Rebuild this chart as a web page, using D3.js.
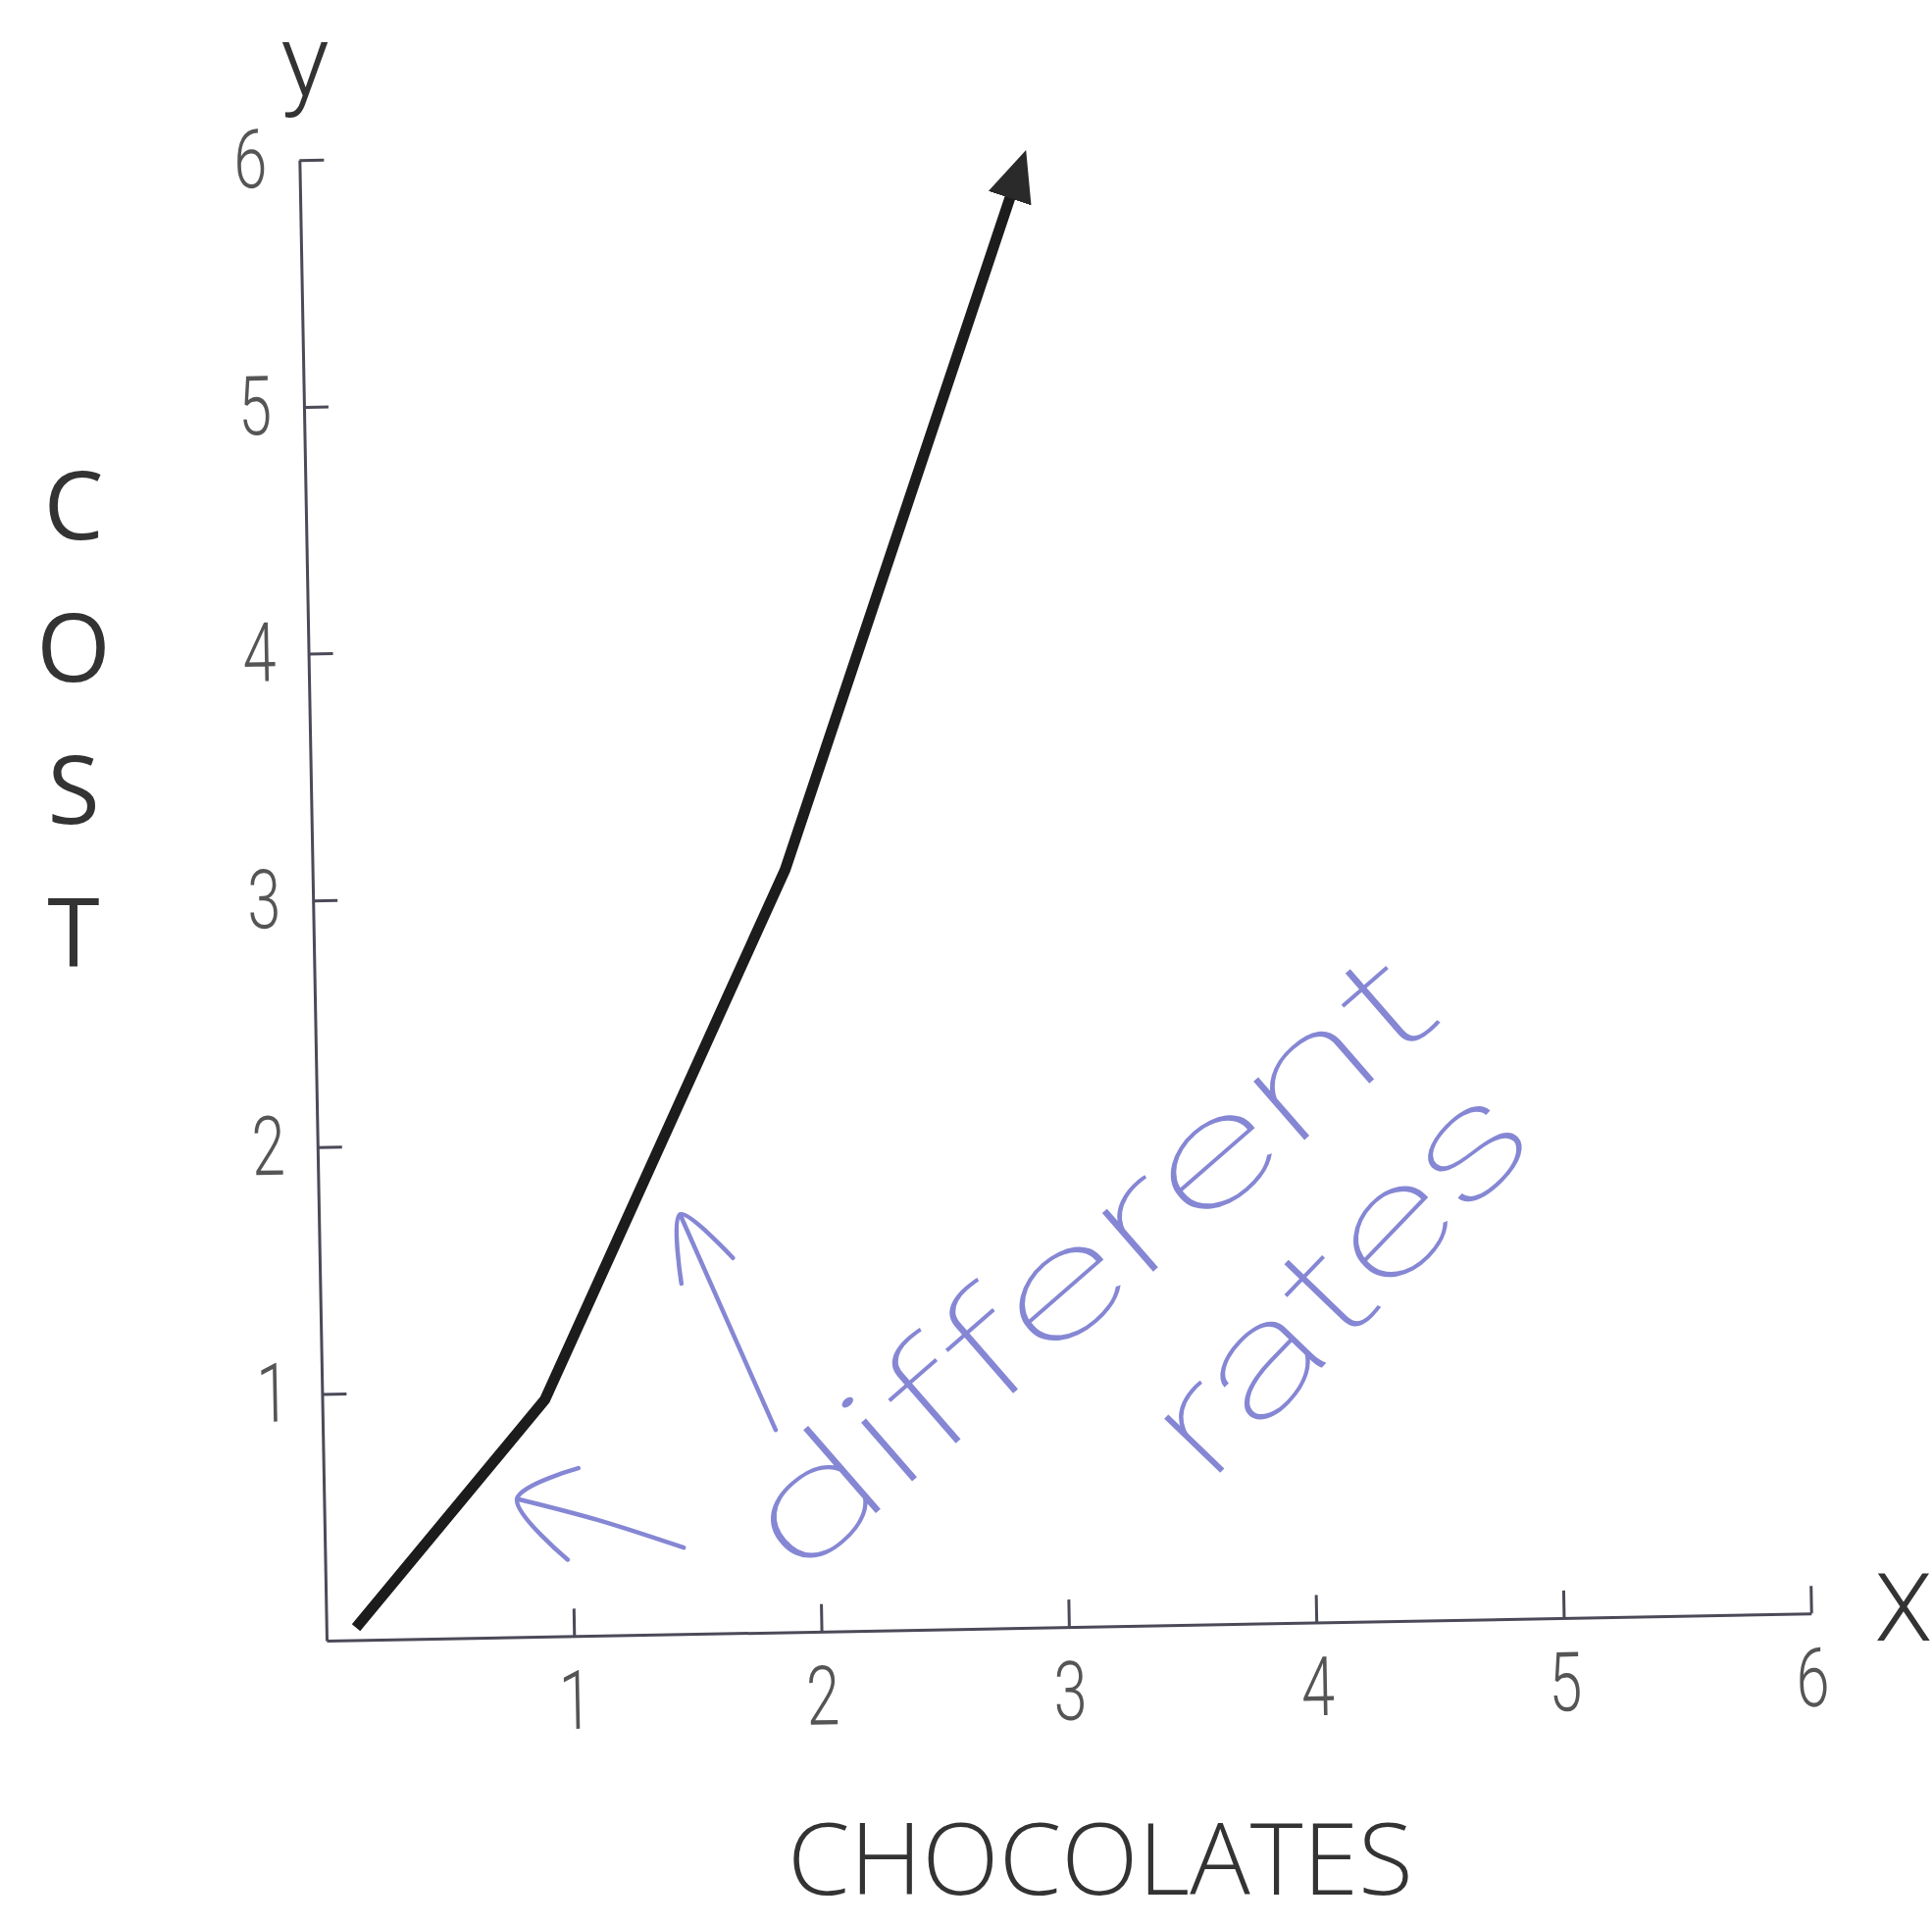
<!DOCTYPE html>
<html>
<head>
<meta charset="utf-8">
<script src="https://cdn.jsdelivr.net/npm/d3@7"></script>
<style>
  body { margin: 0; background: #fff; }
  svg { display: block; }
</style>
</head>
<body>
<svg width="1970" height="1963"></svg>
<script>
// chocolates bought vs cost
var chocolates = [0.12, 0.9, 1.91, 2.87];
var cost = [0.05, 0.96, 3.09, 5.8];
var xTicks = [1, 2, 3, 4, 5, 6];
var yTicks = [1, 2, 3, 4, 5, 6];
var yLetters = ["C", "O", "S", "T"];

// the blue pen notes, in chart units
var leftArrow = [[1.45, 0.35], [1.1, 0.47], [0.78, 0.56]];
var leftArrowHead = [[1.03, 0.68], [0.78, 0.56], [0.98, 0.31]];
var upArrow = [[1.83, 0.82], [1.46, 1.7]];
var upArrowHead = [[1.67, 1.52], [1.46, 1.7], [1.46, 1.42]];
var noteWords = ["different", "rates"];
var noteAt = [[1.9, 0.2], [3.57, 0.56]];

function main() {
    var svg = d3.select("svg");
    svg.append("rect").attr("width", 1970).attr("height", 1963).attr("fill", "#fff");

    var xScale = d3.scaleLinear().domain([0, 6]).range([0, 1514]);
    var yScale = d3.scaleLinear().domain([0, 6]).range([0, -1510]);

    // the sheet was photographed a little crooked
    var g = svg.append("g").attr("transform", "translate(333,1673) rotate(-1.05)");

    var axisColor = "#4a4a58";
    var tickFont = "Roboto, 'DejaVu Sans', sans-serif";

    var xAxis = g.append("g")
        .call(d3.axisBottom(xScale).tickValues(xTicks).tickSizeInner(-28).tickSizeOuter(0).tickPadding(35).tickFormat(d3.format("d")));
    var yAxis = g.append("g")
        .call(d3.axisLeft(yScale).tickValues(yTicks).tickSizeInner(-25).tickSizeOuter(0).tickPadding(33).tickFormat(d3.format("d")));

    [xAxis, yAxis].forEach(function (ax) {
        ax.select(".domain").attr("stroke", axisColor).attr("stroke-width", 3);
        ax.selectAll(".tick line").attr("stroke", axisColor).attr("stroke-width", 3);
        ax.selectAll(".tick text")
            .attr("fill", "#555")
            .style("font-family", tickFont)
            .style("font-weight", 300)
            .attr("font-size", 84)
            .attr("textLength", 34)
            .attr("lengthAdjust", "spacingAndGlyphs");
    });

    // arrow head for the cost line
    svg.append("defs").append("marker")
        .attr("id", "head")
        .attr("markerUnits", "userSpaceOnUse")
        .attr("viewBox", "0 -23 52 46")
        .attr("refX", 2).attr("refY", 0)
        .attr("markerWidth", 52).attr("markerHeight", 46)
        .attr("orient", "auto")
        .append("path")
        .attr("d", "M0,-23L52,0L0,23Z")
        .attr("fill", "#2a2a2a");

    var line = d3.line()
        .x(function (d) { return xScale(d[0]); })
        .y(function (d) { return yScale(d[1]); });

    g.append("path")
        .datum(d3.zip(chocolates, cost))
        .attr("d", line)
        .attr("fill", "none")
        .attr("stroke", "#1c1c1c")
        .attr("stroke-width", 11)
        .attr("stroke-linejoin", "round")
        .attr("marker-end", "url(#head)");

    // pen notes
    var pen = "#8587d4";
    [leftArrow, leftArrowHead, upArrow, upArrowHead].forEach(function (pts) {
        g.append("path")
            .attr("d", d3.line().curve(d3.curveCatmullRom)
                .x(function (d) { return xScale(d[0]); })
                .y(function (d) { return yScale(d[1]); })(pts))
            .attr("fill", "none")
            .attr("stroke", pen)
            .attr("stroke-width", 4.5)
            .attr("stroke-linecap", "round")
            .attr("stroke-linejoin", "round");
    });

    var noteRot = [-40, -45];
    var noteLen = [880, 490];
    g.selectAll(".note")
        .data(noteWords)
        .enter().append("text")
        .attr("class", "note")
        .attr("transform", function (d, i) {
            return "translate(" + xScale(noteAt[i][0]) + "," + yScale(noteAt[i][1]) + ") rotate(" + noteRot[i] + ")";
        })
        .attr("fill", pen)
        .style("font-family", "Roboto, 'DejaVu Sans', sans-serif")
        .style("font-weight", 100)
        .attr("font-size", 150)
        .attr("textLength", function (d, i) { return noteLen[i]; })
        .attr("lengthAdjust", "spacingAndGlyphs")
        .text(function (d) { return d; });

    // axis names
    svg.append("text")
        .attr("x", 311).attr("y", 98)
        .attr("text-anchor", "middle")
        .attr("fill", "#333")
        .style("font-family", "Roboto, sans-serif")
        .style("font-weight", 300)
        .attr("font-size", 104)
        .text("y");

    svg.append("text")
        .attr("x", 1941).attr("y", 1673)
        .attr("text-anchor", "middle")
        .attr("fill", "#333")
        .style("font-family", "Roboto, sans-serif")
        .style("font-weight", 300)
        .attr("font-size", 96)
        .text("X");

    svg.selectAll(".ylab")
        .data(yLetters)
        .enter().append("text")
        .attr("class", "ylab")
        .attr("x", 75)
        .attr("y", function (d, i) { return 550 + i * 145; })
        .attr("text-anchor", "middle")
        .attr("fill", "#333")
        .style("font-family", "'Open Sans', sans-serif")
        .style("font-weight", 400)
        .attr("font-size", 97)
        .text(function (d) { return d; });

    svg.append("text")
        .attr("x", 1122).attr("y", 1932)
        .attr("text-anchor", "middle")
        .attr("fill", "#333")
        .style("font-family", "'Open Sans', sans-serif")
        .style("font-weight", 300)
        .attr("font-size", 102)
        .attr("textLength", 638)
        .attr("lengthAdjust", "spacingAndGlyphs")
        .text("CHOCOLATES");
}
main();
</script>
</body>
</html>
